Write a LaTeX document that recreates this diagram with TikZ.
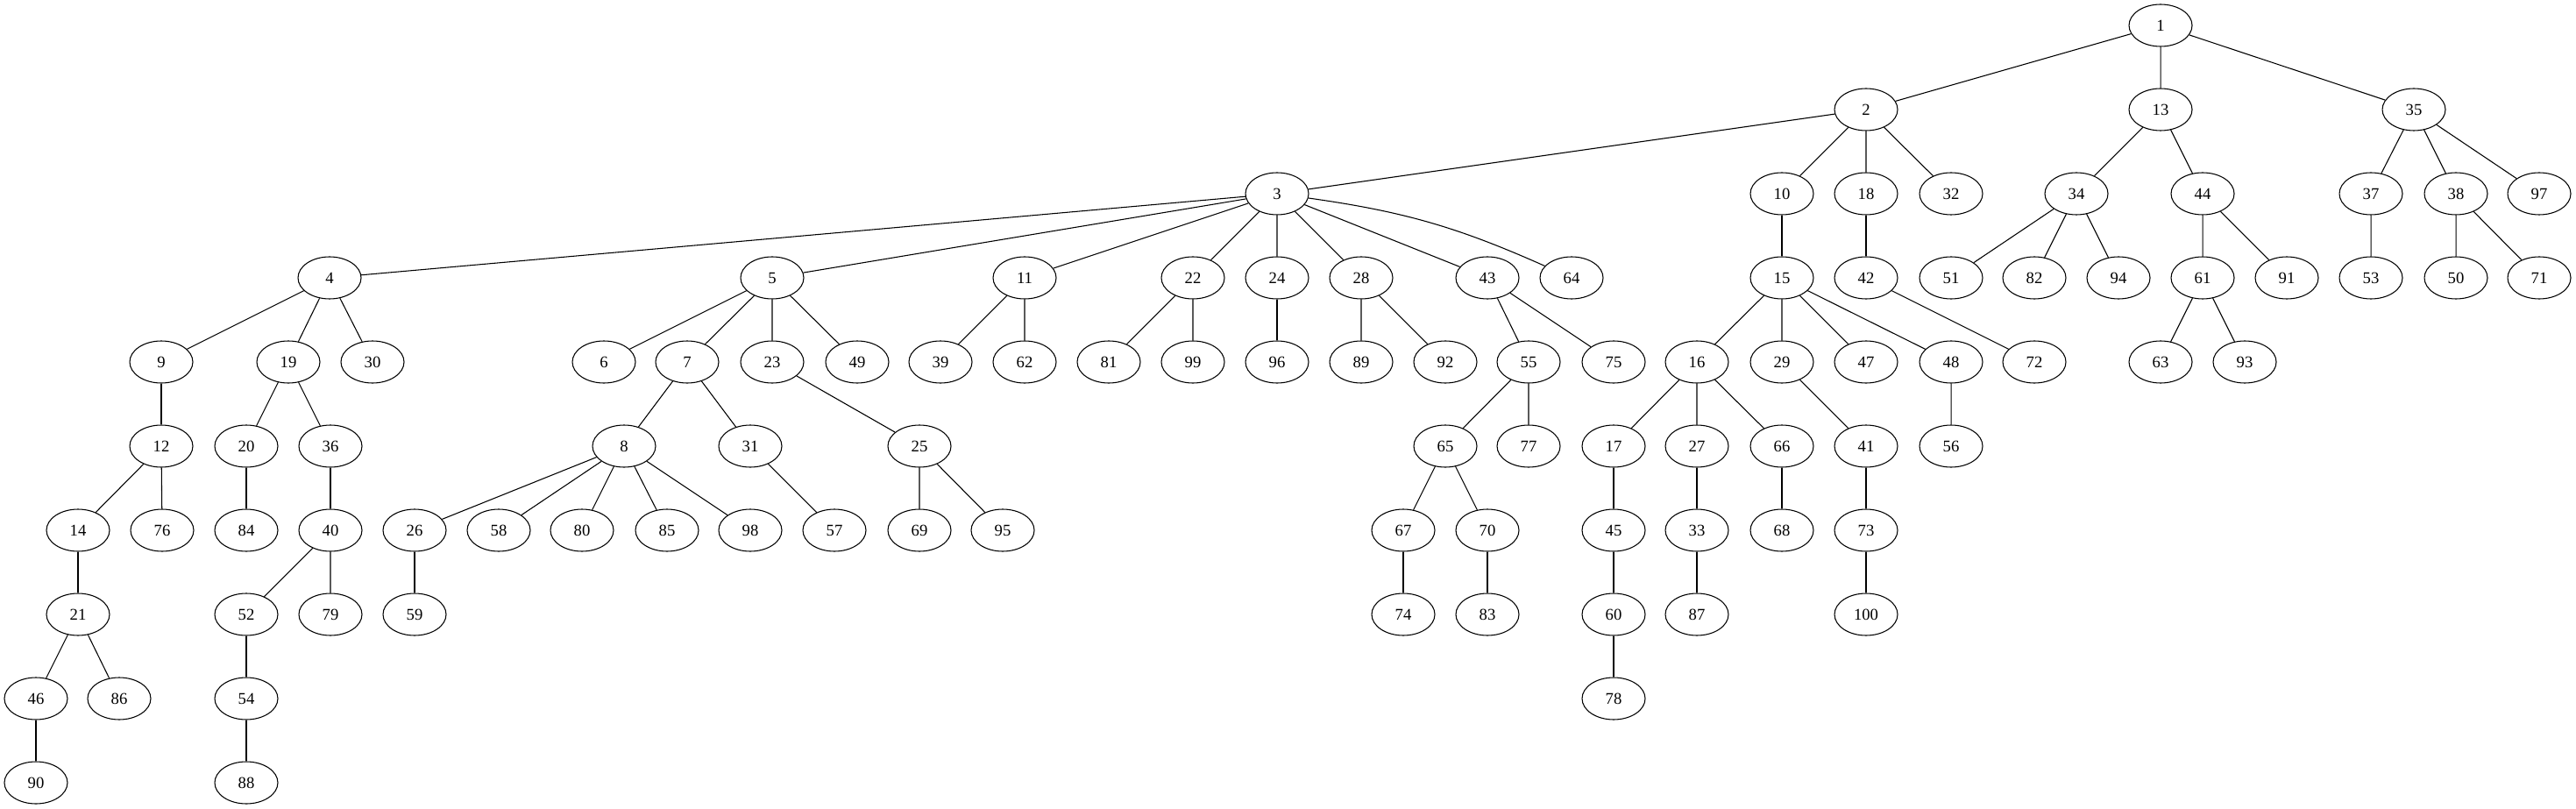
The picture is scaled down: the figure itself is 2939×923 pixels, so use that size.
\documentclass[tikz,border=0pt]{standalone}
\usepackage{fontspec}
\setmainfont{Liberation Serif}
\usetikzlibrary{shapes.geometric}

\tikzset{
  vertex/.style={draw, ellipse, line width=0.8pt, minimum width=54pt, minimum height=36pt,
    inner sep=0pt, font=\fontsize{14}{16}\selectfont},
  branch/.style={line width=0.8pt}
}

\begin{document}
\begin{tikzpicture}[x=0.75pt, y=-0.75pt]
    \useasboundingbox (0,0) rectangle (2939,923);

    % level 0 and 1
    \node[vertex] (n1)  at (2465, 29) {1};
    \node[vertex] (n2)  at (2129,125) {2};
    \node[vertex] (n13) at (2465,125) {13};
    \node[vertex] (n35) at (2754,125) {35};

    % level 2
    \node[vertex] (n3)  at (1457,221) {3};
    \node[vertex] (n10) at (2033,221) {10};
    \node[vertex] (n18) at (2129,221) {18};
    \node[vertex] (n32) at (2226,221) {32};
    \node[vertex] (n34) at (2369,221) {34};
    \node[vertex] (n44) at (2513,221) {44};
    \node[vertex] (n37) at (2705,221) {37};
    \node[vertex] (n38) at (2802,221) {38};
    \node[vertex] (n97) at (2897,221) {97};

    % level 3
    \node[vertex] (n4)  at ( 376,317) {4};
    \node[vertex] (n5)  at ( 881,317) {5};
    \node[vertex] (n11) at (1169,317) {11};
    \node[vertex] (n22) at (1361,317) {22};
    \node[vertex] (n24) at (1457,317) {24};
    \node[vertex] (n28) at (1553,317) {28};
    \node[vertex] (n43) at (1697,317) {43};
    \node[vertex] (n64) at (1793,317) {64};
    \node[vertex] (n15) at (2033,317) {15};
    \node[vertex] (n42) at (2129,317) {42};
    \node[vertex] (n51) at (2226,317) {51};
    \node[vertex] (n82) at (2321,317) {82};
    \node[vertex] (n94) at (2417,317) {94};
    \node[vertex] (n61) at (2513,317) {61};
    \node[vertex] (n91) at (2609,317) {91};
    \node[vertex] (n53) at (2705,317) {53};
    \node[vertex] (n50) at (2802,317) {50};
    \node[vertex] (n71) at (2897,317) {71};

    % level 4
    \node[vertex] (n9)  at ( 184,413) {9};
    \node[vertex] (n19) at ( 329,413) {19};
    \node[vertex] (n30) at ( 425,413) {30};
    \node[vertex] (n6)  at ( 689,413) {6};
    \node[vertex] (n7)  at ( 784,413) {7};
    \node[vertex] (n23) at ( 881,413) {23};
    \node[vertex] (n49) at ( 978,413) {49};
    \node[vertex] (n39) at (1073,413) {39};
    \node[vertex] (n62) at (1169,413) {62};
    \node[vertex] (n81) at (1265,413) {81};
    \node[vertex] (n99) at (1361,413) {99};
    \node[vertex] (n96) at (1457,413) {96};
    \node[vertex] (n89) at (1553,413) {89};
    \node[vertex] (n92) at (1649,413) {92};
    \node[vertex] (n55) at (1744,413) {55};
    \node[vertex] (n75) at (1841,413) {75};
    \node[vertex] (n16) at (1936,413) {16};
    \node[vertex] (n29) at (2033,413) {29};
    \node[vertex] (n47) at (2129,413) {47};
    \node[vertex] (n48) at (2226,413) {48};
    \node[vertex] (n72) at (2321,413) {72};
    \node[vertex] (n63) at (2465,413) {63};
    \node[vertex] (n93) at (2561,413) {93};

    % level 5
    \node[vertex] (n12) at ( 184,509) {12};
    \node[vertex] (n20) at ( 281,509) {20};
    \node[vertex] (n36) at ( 377,509) {36};
    \node[vertex] (n8)  at ( 712,509) {8};
    \node[vertex] (n31) at ( 856,509) {31};
    \node[vertex] (n25) at (1049,509) {25};
    \node[vertex] (n65) at (1649,509) {65};
    \node[vertex] (n77) at (1744,509) {77};
    \node[vertex] (n17) at (1841,509) {17};
    \node[vertex] (n27) at (1936,509) {27};
    \node[vertex] (n66) at (2033,509) {66};
    \node[vertex] (n41) at (2129,509) {41};
    \node[vertex] (n56) at (2226,509) {56};

    % level 6
    \node[vertex] (n14) at (  89,605) {14};
    \node[vertex] (n76) at ( 185,605) {76};
    \node[vertex] (n84) at ( 281,605) {84};
    \node[vertex] (n40) at ( 377,605) {40};
    \node[vertex] (n26) at ( 473,605) {26};
    \node[vertex] (n58) at ( 569,605) {58};
    \node[vertex] (n80) at ( 664,605) {80};
    \node[vertex] (n85) at ( 761,605) {85};
    \node[vertex] (n98) at ( 856,605) {98};
    \node[vertex] (n57) at ( 952,605) {57};
    \node[vertex] (n69) at (1049,605) {69};
    \node[vertex] (n95) at (1144,605) {95};
    \node[vertex] (n67) at (1601,605) {67};
    \node[vertex] (n70) at (1697,605) {70};
    \node[vertex] (n45) at (1841,605) {45};
    \node[vertex] (n33) at (1936,605) {33};
    \node[vertex] (n68) at (2033,605) {68};
    \node[vertex] (n73) at (2129,605) {73};

    % level 7 to 9
    \node[vertex] (n21)  at (  89,701) {21};
    \node[vertex] (n52)  at ( 281,701) {52};
    \node[vertex] (n79)  at ( 377,701) {79};
    \node[vertex] (n59)  at ( 473,701) {59};
    \node[vertex] (n74)  at (1601,701) {74};
    \node[vertex] (n83)  at (1697,701) {83};
    \node[vertex] (n60)  at (1841,701) {60};
    \node[vertex] (n87)  at (1936,701) {87};
    \node[vertex] (n100) at (2129,701) {100};
    \node[vertex] (n46)  at (  41,797) {46};
    \node[vertex] (n86)  at ( 136,797) {86};
    \node[vertex] (n54)  at ( 281,797) {54};
    \node[vertex] (n78)  at (1841,797) {78};
    \node[vertex] (n90)  at (  41,893) {90};
    \node[vertex] (n88)  at ( 281,893) {88};

    % edges
    \draw[branch] (n1) -- (n2) (n1) -- (n13) (n1) -- (n35);
    \draw[branch] (n2) -- (n3) (n2) -- (n10) (n2) -- (n18) (n2) -- (n32);
    \draw[branch] (n13) -- (n34) (n13) -- (n44);
    \draw[branch] (n35) -- (n37) (n35) -- (n38) (n35) -- (n97);
    \draw[branch] (n3) -- (n4) (n3) -- (n5) (n3) -- (n11) (n3) -- (n22)
                  (n3) -- (n24) (n3) -- (n28) (n3) -- (n43) (n3) to[bend left=8] (n64);
    \draw[branch] (n10) -- (n15) (n18) -- (n42);
    \draw[branch] (n34) -- (n51) (n34) -- (n82) (n34) -- (n94);
    \draw[branch] (n44) -- (n61) (n44) -- (n91);
    \draw[branch] (n37) -- (n53) (n38) -- (n50) (n38) -- (n71);
    \draw[branch] (n4) -- (n9) (n4) -- (n19) (n4) -- (n30);
    \draw[branch] (n5) -- (n6) (n5) -- (n7) (n5) -- (n23) (n5) -- (n49);
    \draw[branch] (n11) -- (n39) (n11) -- (n62);
    \draw[branch] (n22) -- (n81) (n22) -- (n99);
    \draw[branch] (n24) -- (n96);
    \draw[branch] (n28) -- (n89) (n28) -- (n92);
    \draw[branch] (n43) -- (n55) (n43) -- (n75);
    \draw[branch] (n15) -- (n16) (n15) -- (n29) (n15) -- (n47) (n15) -- (n48);
    \draw[branch] (n42) -- (n72);
    \draw[branch] (n61) -- (n63) (n61) -- (n93);
    \draw[branch] (n9) -- (n12);
    \draw[branch] (n19) -- (n20) (n19) -- (n36);
    \draw[branch] (n7) -- (n8) (n7) -- (n31);
    \draw[branch] (n23) -- (n25);
    \draw[branch] (n55) -- (n65) (n55) -- (n77);
    \draw[branch] (n16) -- (n17) (n16) -- (n27) (n16) -- (n66);
    \draw[branch] (n29) -- (n41) (n48) -- (n56);
    \draw[branch] (n12) -- (n14) (n12) -- (n76);
    \draw[branch] (n20) -- (n84) (n36) -- (n40);
    \draw[branch] (n8) -- (n26) (n8) -- (n58) (n8) -- (n80) (n8) -- (n85) (n8) -- (n98);
    \draw[branch] (n31) -- (n57);
    \draw[branch] (n25) -- (n69) (n25) -- (n95);
    \draw[branch] (n65) -- (n67) (n65) -- (n70);
    \draw[branch] (n17) -- (n45) (n27) -- (n33) (n66) -- (n68) (n41) -- (n73);
    \draw[branch] (n14) -- (n21);
    \draw[branch] (n40) -- (n52) (n40) -- (n79);
    \draw[branch] (n26) -- (n59);
    \draw[branch] (n67) -- (n74) (n70) -- (n83);
    \draw[branch] (n45) -- (n60) (n33) -- (n87) (n73) -- (n100);
    \draw[branch] (n21) -- (n46) (n21) -- (n86);
    \draw[branch] (n52) -- (n54) (n60) -- (n78);
    \draw[branch] (n46) -- (n90) (n54) -- (n88);
  \end{tikzpicture}
\end{document}
